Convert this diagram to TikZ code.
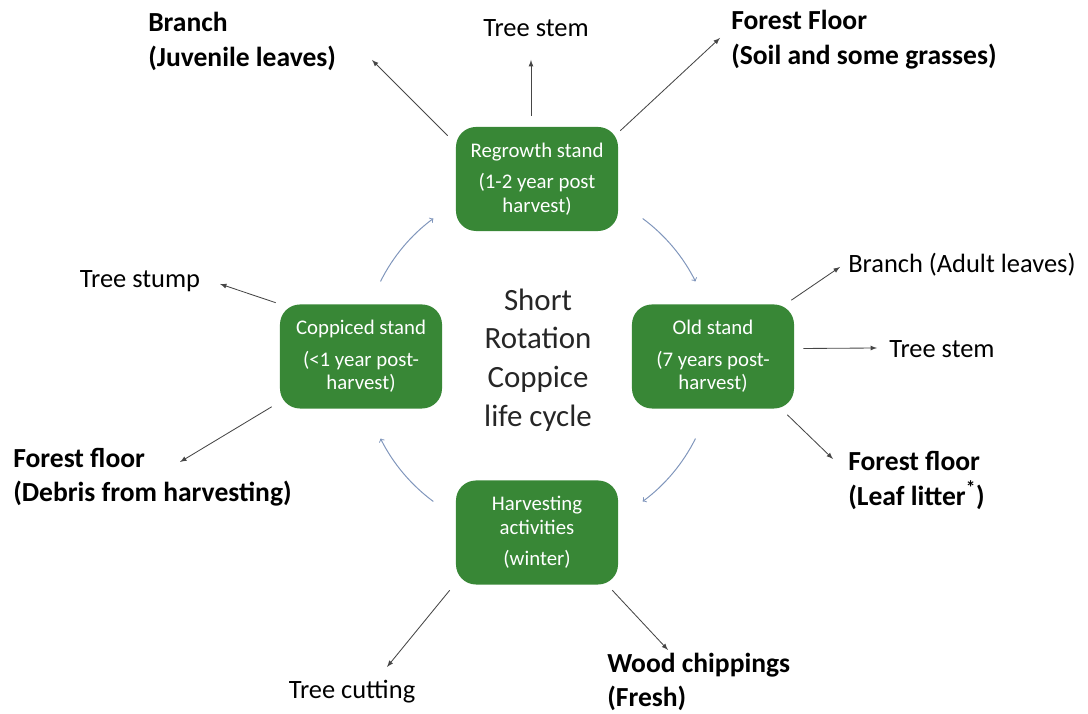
\documentclass[tikz,border=0pt]{standalone}
\usepackage{fontspec}
\setmainfont{Carlito}
\definecolor{standgreen}{RGB}{56,135,54}
\definecolor{cyclecol}{RGB}{128,150,188}
\definecolor{linecol}{RGB}{70,70,70}

\begin{document}
\begin{tikzpicture}
[x=0.025cm,y=0.025cm,%
  standbox/.style={draw=none,fill=standgreen,rounded corners=0.5cm,text=white,align=center,%
    minimum width=4.05cm,minimum height=2.6cm,inner sep=2pt,font=\fontsize{14.8}{16.5}\selectfont},%
  lbl/.style={inner sep=0pt,align=left,font=\fontsize{18.8}{24.5}\selectfont},%
  blbl/.style={lbl,font=\fontsize{19.6}{24.5}\selectfont\bfseries},%
  outarr/.style={-latex,draw=linecol,line width=0.6pt},%
  cyc/.style={-to,draw=cyclecol,line width=0.7pt}]
\useasboundingbox (0,0) rectangle (1088,714);
\node[standbox] (reg) at (537,535) {Regrowth stand\\[6pt](1-2 year post\\harvest)};
\node[standbox] (cop) at (361,357.5) {Coppiced stand\\[6pt](<1 year post-\\harvest)};
\node[standbox] (old) at (713,357.5) {Old stand\\[6pt](7 years post-\\harvest)};
\node[standbox] (har) at (537,181.5) {Harvesting\\activities\\[6pt](winter)};
\node[align=center,text=black!85,font=\fontsize{22}{27.5}\selectfont] (title) at (538,354)
  {Short\\Rotation\\Coppice\\life cycle};
\node[blbl,anchor=west] (brJ) at (148,672.5) {Branch\\(Juvenile leaves)};
\node[lbl] (stemT) at (536,686) {Tree stem};
\node[blbl,anchor=west] (ffT) at (731,674.5) {Forest Floor\\(Soil and some grasses)};
\node[lbl] (stump) at (140,433) {Tree stump};
\node[lbl,anchor=west] (brA) at (848,449) {Branch (Adult leaves)};
\node[lbl,anchor=west] (stemR) at (889,365) {Tree stem};
\node[blbl,anchor=west] (ffD) at (13,237) {Forest floor\\(Debris from harvesting)};
\node[blbl,anchor=west] (ffL) at (848,233.5) {Forest floor\\(Leaf litter\textsuperscript{*})};
\node[lbl] (cut) at (352,22) {Tree cutting};
\node[blbl,anchor=west] (chip) at (607,32) {Wood chippings\\(Fresh)};
\coordinate (tBrJ) at (372,654);
\coordinate (tStemT) at (531,654);
\coordinate (tFfT) at (720,676);
\coordinate (tStump) at (220,430);
\coordinate (tBrA) at (840,447);
\coordinate (tStemR) at (877,366);
\coordinate (tFfL) at (833,255);
\coordinate (tFfD) at (180,252);
\coordinate (tCut) at (387,47);
\coordinate (tChip) at (668,64);
\draw[outarr] ([shift={(-8,-9)}]reg.north west) -- (tBrJ);
\draw[outarr] ([shift={(-6,11)}]reg.north) -- (tStemT);
\draw[outarr] ([shift={(2,-4)}]reg.north east) -- (tFfT);
\draw[outarr] ([shift={(-4,1.5)}]cop.north west) -- (tStump);
\draw[outarr] ([shift={(-8,2)}]cop.south west) -- (tFfD);
\draw[outarr] ([shift={(-3,4)}]old.north east) -- (tBrA);
\draw[outarr] ([shift={(9,8)}]old.east) -- (tStemR);
\draw[outarr] ([shift={(-7,-6)}]old.south east) -- (tFfL);
\draw[outarr] ([shift={(-6,-5.5)}]har.south west) -- (tCut);
\draw[outarr] ([shift={(-6,-5.5)}]har.south east) -- (tChip);
\draw[cyc] ([shift={(153.5:176)}]title.center) arc[start angle=153.5,end angle=126.5,radius=176];
\draw[cyc] ([shift={(53.5:176)}]title.center) arc[start angle=53.5,end angle=26.5,radius=176];
\draw[cyc] ([shift={(-26.5:176)}]title.center) arc[start angle=-26.5,end angle=-53.5,radius=176];
\draw[cyc] ([shift={(-126.5:176)}]title.center) arc[start angle=-126.5,end angle=-153.5,radius=176];
\end{tikzpicture}
\end{document}
